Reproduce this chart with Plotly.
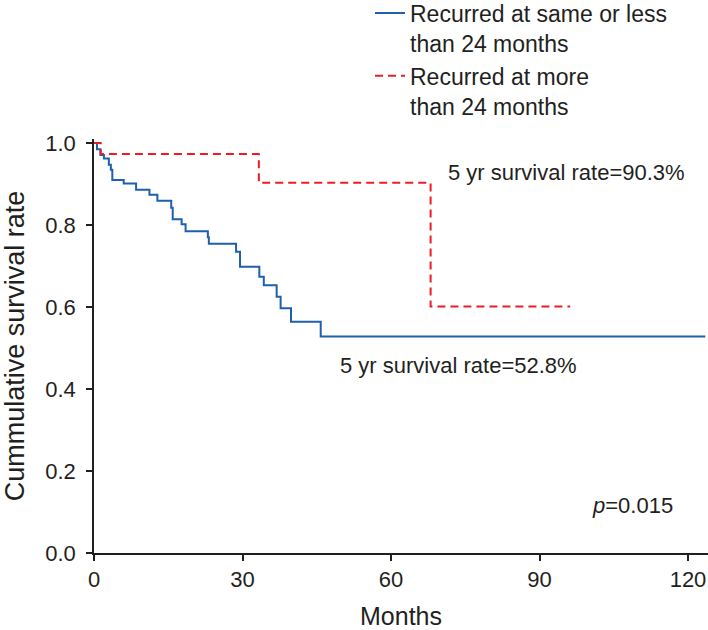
import plotly.graph_objects as go

# Kaplan-Meier step data (months, cumulative survival)
blue_months = [0, 0.6, 1.3, 2.0, 3.0, 3.4, 3.7, 6.0, 8.5, 11.2, 12.8, 15.6, 15.9, 17.7, 18.5,
               23.0, 23.2, 28.7, 29.5, 33.4, 34.3, 36.9, 37.7, 39.8, 45.8, 123.5]
blue_surv = [1.0, 0.985, 0.971, 0.962, 0.947, 0.935, 0.910, 0.901, 0.886, 0.874, 0.859, 0.842,
             0.814, 0.802, 0.785, 0.770, 0.754, 0.735, 0.698, 0.674, 0.653, 0.625, 0.597,
             0.564, 0.528, 0.528]

red_months = [0, 1.35, 33.3, 68.0, 96.2]
red_surv = [1.0, 0.973, 0.903, 0.601, 0.601]

series_names = ["Recurred at same or less<br>than 24 months",
                "Recurred at more<br>than 24 months"]

x_ticks = [0, 30, 60, 90, 120]
y_ticks = [0.0, 0.2, 0.4, 0.6, 0.8, 1.0]

FONT = "Liberation Sans, Arial, sans-serif"
TXT = "#231f20"

fig = go.Figure()
fig.add_trace(go.Scatter(x=blue_months, y=blue_surv, mode="lines", line_shape="hv",
                         name=series_names[0],
                         line=dict(color="#1f5fad", width=2)))
fig.add_trace(go.Scatter(x=red_months, y=red_surv, mode="lines", line_shape="hv",
                         name=series_names[1],
                         line=dict(color="#ed1c24", width=2, dash="8px,5px")))

fig.add_annotation(x=71.1, y=0.928, text="5 yr survival rate=90.3%", showarrow=False,
                   xanchor="left", yanchor="middle", font=dict(size=22, color=TXT, family=FONT))
fig.add_annotation(x=49.3, y=0.458, text="5 yr survival rate=52.8%", showarrow=False,
                   xanchor="left", yanchor="middle", font=dict(size=22, color=TXT, family=FONT))
fig.add_annotation(x=100.2, y=0.117, text="<i>p</i>=0.015", showarrow=False,
                   xanchor="left", yanchor="middle", font=dict(size=22, color=TXT, family=FONT))

fig.update_layout(
    width=708, height=630,
    margin=dict(l=94, r=0, t=139, b=77, autoexpand=False),
    paper_bgcolor="white", plot_bgcolor="white",
    font=dict(family=FONT, size=22, color=TXT),
    showlegend=True,
    legend=dict(x=0.4495, y=1.356, xanchor="left", yanchor="top", valign="top",
                bgcolor="rgba(0,0,0,0)", font=dict(size=23, color=TXT, family=FONT),
                tracegroupgap=0, itemwidth=30),
    xaxis=dict(range=[0, 124.04], tickvals=x_ticks, showline=True, linecolor=TXT, linewidth=1.5,
               ticks="outside", ticklen=6, tickwidth=1.5, tickcolor=TXT, showgrid=False,
               zeroline=False, ticklabelstandoff=0, automargin=False,
               tickfont=dict(size=22, color=TXT),
               title=dict(text="Months", font=dict(size=25, color=TXT), standoff=20)),
    yaxis=dict(range=[0, 1.0098], tickvals=y_ticks, tickformat=".1f", showline=True,
               linecolor=TXT, linewidth=1.5, ticks="outside", ticklen=6, tickwidth=1.5,
               tickcolor=TXT, showgrid=False, zeroline=False, ticklabelstandoff=6,
               automargin=False, tickfont=dict(size=22, color=TXT),
               title=dict(text="Cummulative survival rate", font=dict(size=27, color=TXT),
                          standoff=23)),
)

# remove the default page margin so the figure sits at the window's top-left corner
fig.write_html("out.html",
               config={"displayModeBar": False},
               post_script="document.body.style.margin='0';document.body.style.overflow='hidden';")
